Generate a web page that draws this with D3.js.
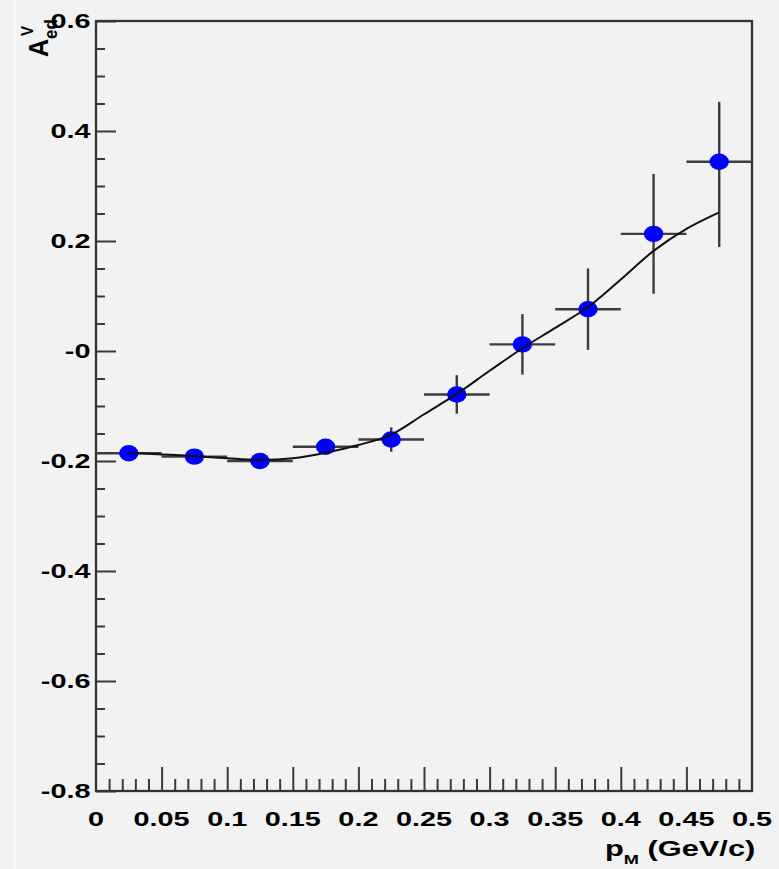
<!DOCTYPE html>
<html>
<head>
<meta charset="utf-8">
<script src="https://cdn.jsdelivr.net/npm/d3@7"></script>
<style>
  html, body { margin: 0; padding: 0; background: #f2f2f2; }
  svg { display: block; }
  text { font-family: "Liberation Sans", Arial, Helvetica, sans-serif; font-weight: bold; fill: #000; }
</style>
</head>
<body>
<svg id="chart" width="779" height="869"></svg>
<script>
// Measured asymmetry A_ed^V in bins of missing momentum p_M
const binCenters = [0.025, 0.075, 0.125, 0.175, 0.225, 0.275, 0.325, 0.375, 0.425, 0.475];
const binHalfWidth = [0.025, 0.025, 0.025, 0.025, 0.025, 0.025, 0.025, 0.025, 0.025, 0.025];
const asymmetry = [-0.186, -0.192, -0.200, -0.174, -0.161, -0.079, 0.012, 0.076, 0.213, 0.344];
const errUp   = [0.008, 0.010, 0.012, 0.014, 0.022, 0.035, 0.055, 0.074, 0.109, 0.109];
const errDown = [0.008, 0.010, 0.012, 0.014, 0.022, 0.035, 0.055, 0.074, 0.109, 0.155];

// Fitted curve sampled along p_M
const fitX = [0.025, 0.05, 0.075, 0.1, 0.125, 0.15, 0.175, 0.2, 0.225, 0.25, 0.275, 0.3, 0.325, 0.35, 0.375, 0.4, 0.425, 0.45, 0.475];
const fitY = [-0.185, -0.188, -0.191, -0.195, -0.198, -0.195, -0.185, -0.171, -0.152, -0.115, -0.078, -0.036, 0.005, 0.042, 0.080, 0.130, 0.182, 0.222, 0.252];

// Axis ticks and labels
const yMajorTicks = [0.6, 0.4, 0.2, 0, -0.2, -0.4, -0.6, -0.8];
const yTickLabels = ["0.6", "0.4", "0.2", "-0", "-0.2", "-0.4", "-0.6", "-0.8"];
const xMajorTicks = [0, 0.05, 0.1, 0.15, 0.2, 0.25, 0.3, 0.35, 0.4, 0.45, 0.5];
const xTickLabels = ["0", "0.05", "0.1", "0.15", "0.2", "0.25", "0.3", "0.35", "0.4", "0.45", "0.5"];

const svg = d3.select("#chart");
const W = 779, H = 869;
const L = 96, R = 752, T = 21, B = 791;

svg.append("rect").attr("width", W).attr("height", H).attr("fill", "#f2f2f2");
svg.append("rect").attr("x", 13.5).attr("y", 0).attr("width", 2.5).attr("height", H).attr("fill", "#fbfbfb");

const x = d3.scaleLinear().domain([0, 0.5]).range([L, R]);
const y = d3.scaleLinear().domain([-0.8, 0.6]).range([B, T]);

const TX = 1.48; // horizontal stretch of the bold tick lettering

// Y axis: major ticks every 0.2, minor every 0.05
const yMinor = d3.range(-0.8, 0.6001, 0.05).map(v => +v.toFixed(2)).filter(v => !yMajorTicks.some(m => Math.abs(m - v) < 1e-6));
const yAxisMajor = d3.axisRight(y).tickValues(yMajorTicks).tickSize(20).tickFormat("");
const yAxisMinor = d3.axisRight(y).tickValues(yMinor).tickSize(9).tickFormat("");
[yAxisMajor, yAxisMinor].forEach(ax => {
  const g = svg.append("g").attr("transform", `translate(${L},0)`).call(ax);
  g.select(".domain").remove();
  g.selectAll("line").attr("stroke", "#3a3a3a").attr("stroke-width", 2);
});

// X axis: major ticks every 0.05, minor every 0.01
const xMinor = d3.range(0, 0.5001, 0.01).map(v => +v.toFixed(2)).filter(v => !xMajorTicks.some(m => Math.abs(m - v) < 1e-6));
const xAxisMajor = d3.axisTop(x).tickValues(xMajorTicks.filter(v => v > 0 && v < 0.5)).tickSize(24).tickFormat("");
const xAxisMinor = d3.axisTop(x).tickValues(xMinor).tickSize(12).tickFormat("");
[xAxisMajor, xAxisMinor].forEach(ax => {
  const g = svg.append("g").attr("transform", `translate(0,${B})`).call(ax);
  g.select(".domain").remove();
  g.selectAll("line").attr("stroke", "#3a3a3a").attr("stroke-width", 2);
});

// Frame
svg.append("rect").attr("x", L).attr("y", T).attr("width", R - L).attr("height", B - T)
  .attr("fill", "none").attr("stroke", "#333").attr("stroke-width", 2.3);

// Tick labels
svg.append("g").selectAll("text").data(yMajorTicks).join("text")
  .attr("transform", d => `translate(90.5,${y(d) + 6.5}) scale(${TX},1)`)
  .attr("text-anchor", "end").attr("font-size", 19.5)
  .text((d, i) => yTickLabels[i]);

svg.append("g").selectAll("text").data(xMajorTicks).join("text")
  .attr("transform", d => `translate(${x(d)},826) scale(${TX},1)`)
  .attr("text-anchor", "middle").attr("font-size", 19.5)
  .text((d, i) => xTickLabels[i]);

// Axis titles
const xt = svg.append("text").attr("transform", "translate(605,856) scale(1.4,1)").attr("font-size", 22);
xt.append("tspan").text("p");
xt.append("tspan").attr("font-size", 13).attr("dy", 8).text("M");
xt.append("tspan").attr("dy", -8).text(" (GeV/c)");

const yt = svg.append("g").attr("transform", "translate(47.5,57) scale(1.13,1) rotate(-90)");
yt.append("text").attr("font-size", 25).attr("x", 0).attr("y", 0).text("A");
yt.append("text").attr("font-size", 17).attr("x", 18).attr("y", 8).text("ed");
yt.append("text").attr("font-size", 15).attr("x", 21).attr("y", -12.5).text("V");

const pts = binCenters.map((c, i) => ({
  c, hw: binHalfWidth[i], v: asymmetry[i], up: errUp[i], dn: errDown[i]
}));

// Error bars
const eb = svg.append("g").attr("stroke", "#3d3d3d").attr("stroke-width", 2.4);
eb.selectAll("line.h").data(pts).join("line").attr("class", "h")
  .attr("x1", d => x(d.c - d.hw)).attr("x2", d => x(d.c + d.hw))
  .attr("y1", d => y(d.v)).attr("y2", d => y(d.v));
eb.selectAll("line.v").data(pts).join("line").attr("class", "v")
  .attr("x1", d => x(d.c)).attr("x2", d => x(d.c))
  .attr("y1", d => y(d.v + d.up)).attr("y2", d => y(d.v - d.dn));

// Markers
svg.append("g").selectAll("ellipse").data(pts).join("ellipse")
  .attr("cx", d => x(d.c)).attr("cy", d => y(d.v))
  .attr("rx", 9.7).attr("ry", 8.2).attr("fill", "#0000ff");

// Fit curve
const line = d3.line().x(d => x(d[0])).y(d => y(d[1])).curve(d3.curveCatmullRom.alpha(0.5));
svg.append("path").datum(fitX.map((v, i) => [v, fitY[i]]))
  .attr("d", line).attr("fill", "none").attr("stroke", "#111").attr("stroke-width", 2);
</script>
</body>
</html>
